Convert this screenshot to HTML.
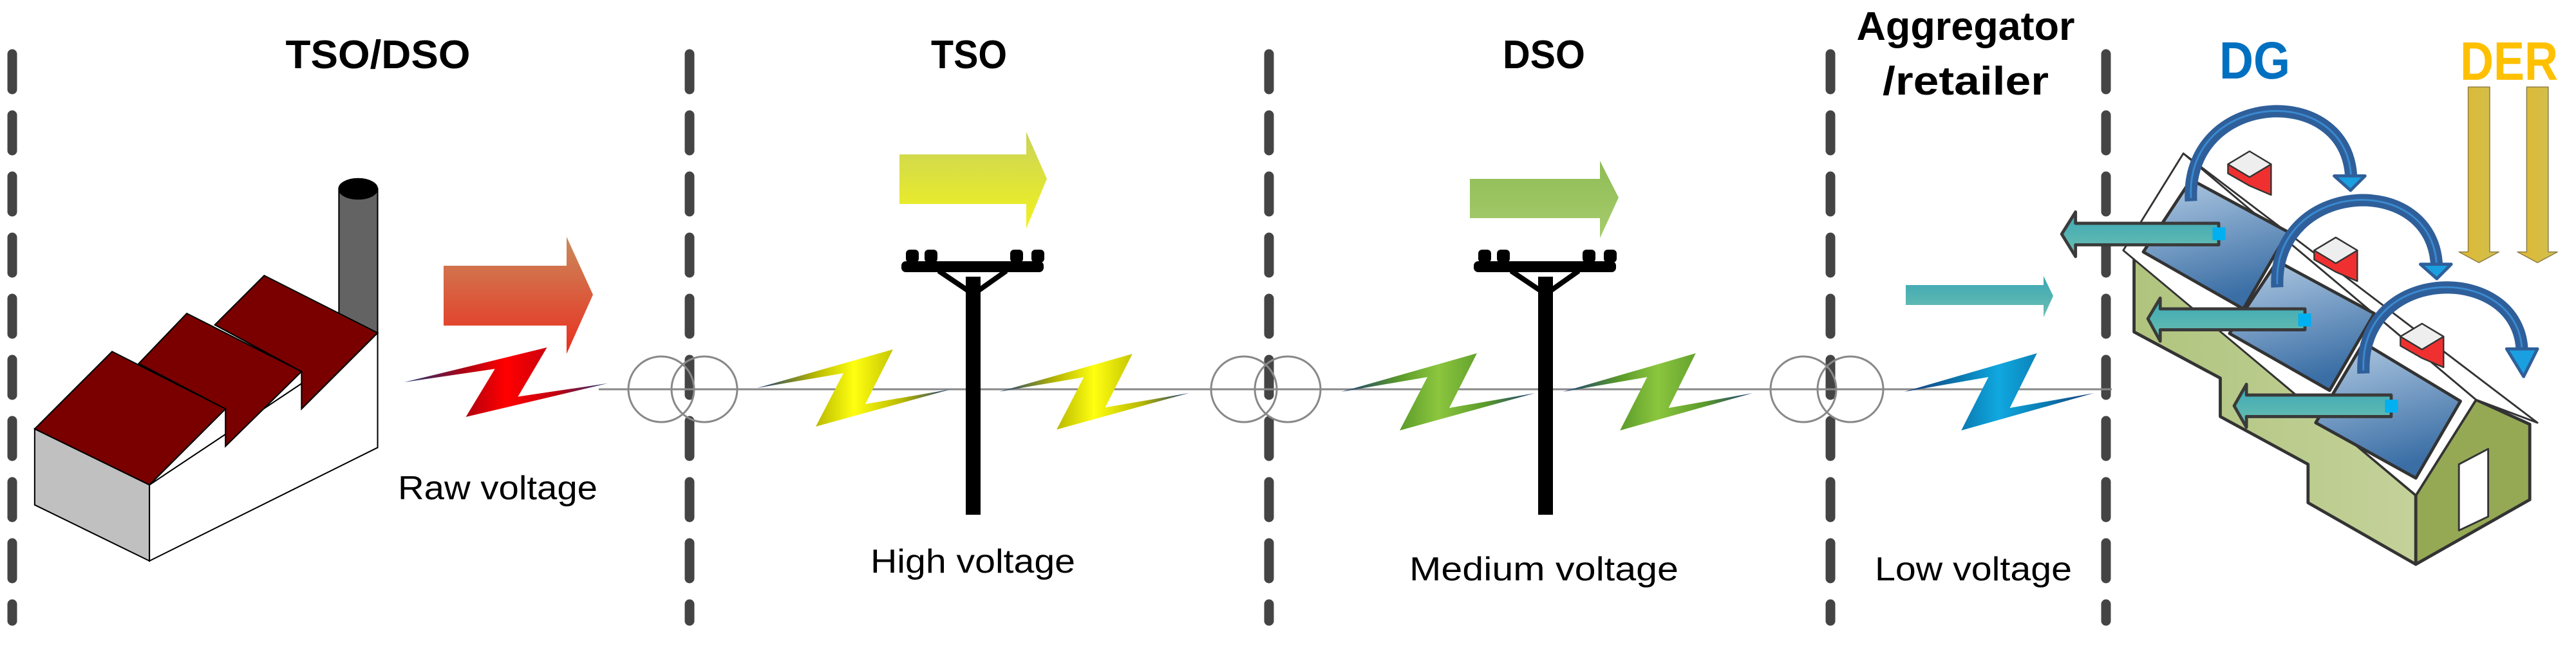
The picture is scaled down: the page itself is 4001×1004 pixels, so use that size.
<!DOCTYPE html>
<html><head><meta charset="utf-8"><style>html,body{margin:0;padding:0;background:#fff}svg{display:block}</style></head>
<body>
<svg width="4001" height="1004" viewBox="0 0 4001 1004" xmlns="http://www.w3.org/2000/svg">
<defs>
<linearGradient id="gRedArr" x1="0" y1="0" x2="0" y2="1"><stop offset="0" stop-color="#c98a5c"/><stop offset="1" stop-color="#ea2f1f"/></linearGradient>
<linearGradient id="gYelArr" x1="0" y1="0" x2="0" y2="1"><stop offset="0" stop-color="#c9d35a"/><stop offset="1" stop-color="#f2f21c"/></linearGradient>
<linearGradient id="gGrnArr" x1="0" y1="0" x2="0" y2="1"><stop offset="0" stop-color="#8fbc55"/><stop offset="1" stop-color="#a6cc6c"/></linearGradient>
<linearGradient id="gTeal" x1="0" y1="0" x2="0" y2="1"><stop offset="0" stop-color="#3aa6b5"/><stop offset="1" stop-color="#6cc0b0"/></linearGradient>
<linearGradient id="bRed" x1="0" y1="0" x2="1" y2="0"><stop offset="0" stop-color="#1a3a7a"/><stop offset=".3" stop-color="#b00010"/><stop offset=".5" stop-color="#ff0000"/><stop offset=".75" stop-color="#c00010"/><stop offset="1" stop-color="#1a3a7a"/></linearGradient>
<linearGradient id="bYel" x1="0" y1="0" x2="1" y2="0"><stop offset="0" stop-color="#1a3a7a"/><stop offset=".3" stop-color="#b8b800"/><stop offset=".5" stop-color="#ffff10"/><stop offset=".75" stop-color="#b8b800"/><stop offset="1" stop-color="#1a3a7a"/></linearGradient>
<linearGradient id="bGrn" x1="0" y1="0" x2="1" y2="0"><stop offset="0" stop-color="#1a3a7a"/><stop offset=".3" stop-color="#5a9a2a"/><stop offset=".5" stop-color="#8cc63e"/><stop offset=".75" stop-color="#5a9a2a"/><stop offset="1" stop-color="#1a3a7a"/></linearGradient>
<linearGradient id="bBlu" x1="0" y1="0" x2="1" y2="0"><stop offset="0" stop-color="#1a3a7a"/><stop offset=".3" stop-color="#0a7ab0"/><stop offset=".5" stop-color="#10a8e0"/><stop offset=".75" stop-color="#0a7ab0"/><stop offset="1" stop-color="#1a3a7a"/></linearGradient>
<linearGradient id="gPanel" x1="0" y1="0" x2="0.3" y2="1"><stop offset="0" stop-color="#b4cce4"/><stop offset="1" stop-color="#3a6ea5"/></linearGradient>
<linearGradient id="gWall" x1="0" y1="0" x2="1" y2="0"><stop offset="0" stop-color="#b0c47e"/><stop offset="1" stop-color="#c4d29a"/></linearGradient>
<linearGradient id="gDer" x1="0" y1="0" x2="1" y2="0"><stop offset="0" stop-color="#e0b830"/><stop offset="1" stop-color="#cfc050"/></linearGradient>
<polygon id="bolt" points="0,60 211,0 168,85 301,62 91,120 134,37"/>
</defs>

<g stroke="#444" stroke-width="15" stroke-linecap="round" stroke-dasharray="55,40">
<line x1="19" y1="84" x2="19" y2="965"/>
<line x1="1071" y1="84" x2="1071" y2="965"/>
<line x1="1971" y1="84" x2="1971" y2="965"/>
<line x1="2843" y1="84" x2="2843" y2="965"/>
<line x1="3271" y1="84" x2="3271" y2="965"/>
</g>

<g font-family="Liberation Sans, sans-serif" font-weight="bold" fill="#000">
<text x="587" y="106" font-size="62" text-anchor="middle" textLength="287" lengthAdjust="spacingAndGlyphs">TSO/DSO</text>
<text x="1505" y="106" font-size="62" text-anchor="middle" textLength="118" lengthAdjust="spacingAndGlyphs">TSO</text>
<text x="2398" y="106" font-size="62" text-anchor="middle" textLength="128" lengthAdjust="spacingAndGlyphs">DSO</text>
<text x="3053" y="62" font-size="62" text-anchor="middle" textLength="339" lengthAdjust="spacingAndGlyphs">Aggregator</text>
<text x="3053" y="147" font-size="62" text-anchor="middle" textLength="258" lengthAdjust="spacingAndGlyphs">/retailer</text>
<text x="3502" y="122" font-size="82" text-anchor="middle" fill="#0070c0" textLength="110" lengthAdjust="spacingAndGlyphs">DG</text>
<text x="3897" y="124" font-size="84" text-anchor="middle" fill="#ffc000" textLength="152" lengthAdjust="spacingAndGlyphs">DER</text>
</g>
<g font-family="Liberation Sans, sans-serif" font-size="52" fill="#000" text-anchor="middle">
<text x="773" y="776" textLength="310" lengthAdjust="spacingAndGlyphs">Raw voltage</text>
<text x="1511" y="890" textLength="318" lengthAdjust="spacingAndGlyphs">High voltage</text>
<text x="2398" y="902" textLength="418" lengthAdjust="spacingAndGlyphs">Medium voltage</text>
<text x="3065" y="902" textLength="306" lengthAdjust="spacingAndGlyphs">Low voltage</text>
</g>

<g transform="translate(0,250) scale(0.4145)" stroke="#000" stroke-width="5">
<rect x="1270" y="105" width="145" height="560" fill="#636363"/>
<ellipse cx="1342" cy="105" rx="72" ry="38" fill="#000"/>
<polygon points="130,1005 560,1215 560,1500 130,1290" fill="#c0c0c0"/>
<polygon points="560,1215 1415,645 1415,1075 560,1500" fill="#fff"/>
<polygon points="805,615 990,430 1415,645 1130,930 1130,790" fill="#7a0000"/>
<polygon points="520,760 700,572 1130,790 845,1070 845,930" fill="#7a0000"/>
<polygon points="130,1005 420,715 845,930 560,1215" fill="#7a0000"/>
</g>

<line x1="930" y1="605" x2="3280" y2="605" stroke="#888" stroke-width="3"/>

<g fill="none" stroke="#888" stroke-width="3">
<circle cx="1027" cy="605" r="51"/><circle cx="1094" cy="605" r="51"/>
<circle cx="1932" cy="605" r="51"/><circle cx="2000" cy="605" r="51"/>
<circle cx="2801" cy="605" r="51"/><circle cx="2874" cy="605" r="51"/>
</g>

<use href="#bolt" transform="translate(628,540) scale(1.05,0.9)" fill="url(#bRed)"/>
<use href="#bolt" transform="translate(1176,543)" fill="url(#bYel)"/>
<use href="#bolt" transform="translate(1552,550) scale(0.98,0.98)" fill="url(#bYel)"/>
<use href="#bolt" transform="translate(2083,549)" fill="url(#bGrn)"/>
<use href="#bolt" transform="translate(2427,549) scale(0.98,1)" fill="url(#bGrn)"/>
<use href="#bolt" transform="translate(2957,549) scale(0.98,1)" fill="url(#bBlu)"/>

<polygon points="689,413 880,413 880,368 921,458 880,550 880,506 689,506" fill="url(#gRedArr)"/>
<polygon points="1397,240 1594,240 1594,205 1626,278 1594,355 1594,317 1397,317" fill="url(#gYelArr)"/>
<polygon points="2283,278 2485,278 2485,250 2514,307 2485,370 2485,339 2283,339" fill="url(#gGrnArr)"/>
<polygon points="2960,443 3174,443 3174,429 3189,460 3174,493 3174,474 2960,474" fill="url(#gTeal)"/>

<g id="pole" fill="#000">
<rect x="1500" y="430" width="23" height="370"/>
<rect x="1400" y="406" width="221" height="17" rx="7"/>
<rect x="1407" y="388" width="20" height="20" rx="6"/><rect x="1436" y="388" width="20" height="20" rx="6"/>
<rect x="1569" y="388" width="20" height="20" rx="6"/><rect x="1602" y="388" width="20" height="20" rx="6"/>
<polyline points="1458,421 1501,450 1522,450 1563,421" fill="none" stroke="#000" stroke-width="8"/>
</g>
<use href="#pole" transform="translate(889,0)"/>

<g transform="translate(3250,150) scale(0.4783)" stroke="#333" stroke-width="10" stroke-linejoin="round">
<polygon points="1220,-31 1290,-31 1290,505 1320,505 1255,540 1190,505 1220,505" fill="url(#gDer)" stroke="#8a7a40" stroke-width="3"/>
<polygon points="1410,-31 1480,-31 1480,505 1510,505 1445,540 1380,505 1410,505" fill="url(#gDer)" stroke="#8a7a40" stroke-width="3"/>
<polygon points="135,525 1050,1295 1050,1520 700,1320 700,1195 415,1040 415,915 135,765" fill="url(#gWall)"/>
<polygon points="1050,1295 1245,985 1420,1065 1420,1310 1050,1520" fill="#95a955"/>
<polygon points="1190,1195 1285,1145 1285,1365 1190,1410" fill="#fff" stroke-width="6"/>
<polygon points="295,185 1445,1060 1245,985" fill="#fff" stroke-width="6"/>
<polygon points="100,500 295,185 1245,985 1050,1295" fill="#fff" stroke-width="6"/>
<g stroke-width="5">
<polygon points="440,220 510,178 580,220 580,320 510,290 440,250" fill="#f03030"/>
<polygon points="440,220 510,178 580,220 510,262" fill="#eee"/>
<polygon points="720,500 790,458 860,500 860,600 790,570 720,530" fill="#f03030"/>
<polygon points="720,500 790,458 860,500 790,542" fill="#eee"/>
<polygon points="1000,780 1070,738 1140,780 1140,880 1070,850 1000,810" fill="#f03030"/>
<polygon points="1000,780 1070,738 1140,780 1070,822" fill="#eee"/>
</g>
<polygon points="320,270 635,440 490,690 165,505" fill="url(#gPanel)"/>
<polygon points="600,535 915,705 770,955 445,770" fill="url(#gPanel)"/>
<polygon points="880,800 1195,990 1050,1240 725,1060" fill="url(#gPanel)"/>
<g fill="none" stroke="#2f5f9a" stroke-width="40">
<path d="M320,340 C300,-20 830,-50 840,265"/>
<path d="M600,620 C585,270 1110,240 1118,555"/>
<path d="M880,900 C865,540 1390,540 1395,830"/>
</g>
<g fill="none" stroke="#3a8ad0" stroke-width="6">
<path d="M320,330 C300,-20 830,-50 840,265"/>
<path d="M600,610 C585,270 1110,240 1118,555"/>
<path d="M880,890 C865,540 1390,540 1395,830"/>
</g>
<g fill="#1aa0e0" stroke="#2f5f9a" stroke-width="10">
<polygon points="785,258 885,258 838,305"/>
<polygon points="1065,545 1165,545 1118,592"/>
<polygon points="1345,820 1445,820 1400,910"/>
</g>
<g stroke="#3a3a3a" stroke-width="10">
<polygon points="-55,412 410,412 410,482 -55,482 -55,520 -100,447 -55,375" fill="url(#gTeal)"/>
<polygon points="220,690 690,690 690,758 220,758 220,795 180,722 220,655" fill="url(#gTeal)"/>
<polygon points="500,970 970,970 970,1040 500,1040 500,1075 460,1005 500,935" fill="url(#gTeal)"/>
</g>
<g fill="#00b0f0" stroke="none">
<rect x="390" y="425" width="42" height="42"/>
<rect x="668" y="705" width="42" height="42"/>
<rect x="950" y="985" width="42" height="42"/>
</g>
</g>
</svg>
</body></html>
